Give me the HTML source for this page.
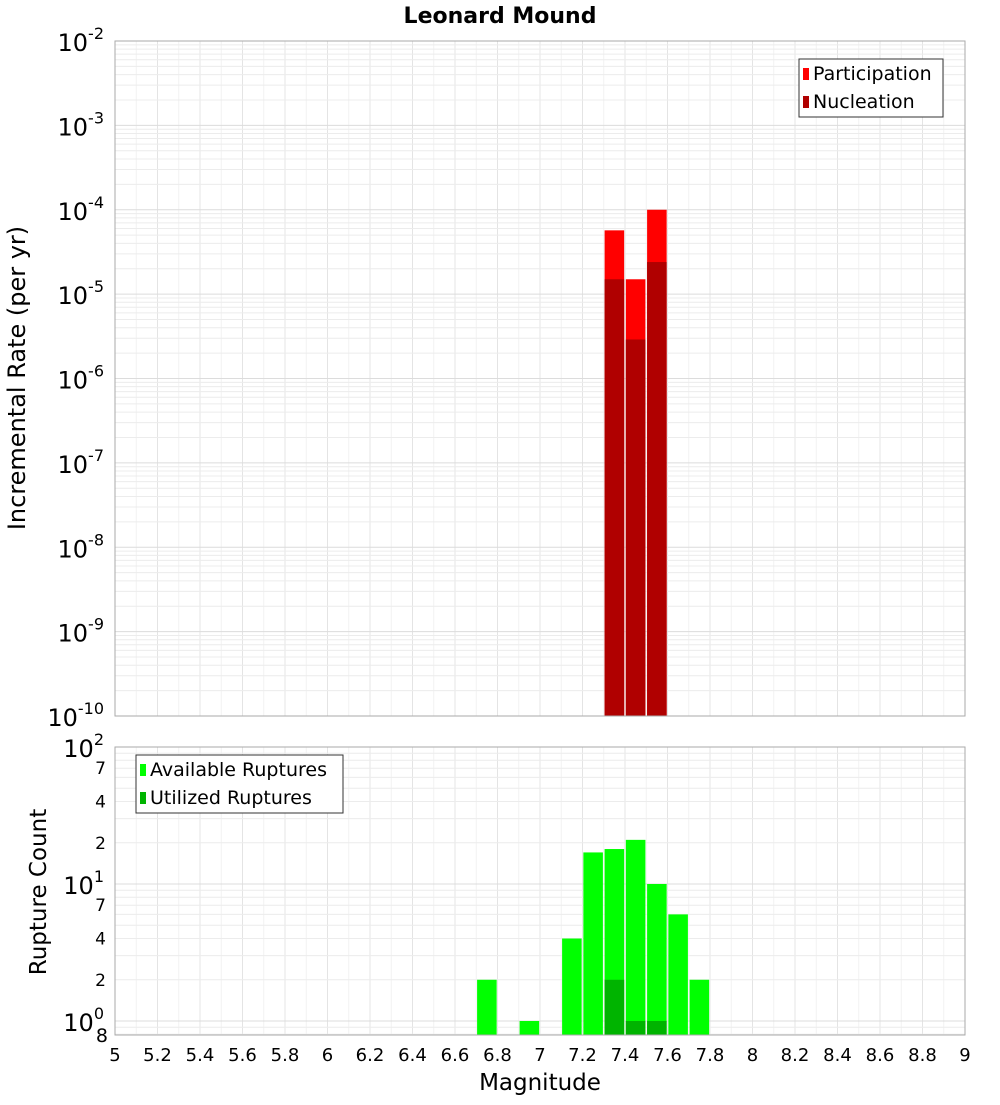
<!DOCTYPE html>
<html><head><meta charset="utf-8"><style>
body{margin:0;background:#fff;font-family:"Liberation Sans","DejaVu Sans",sans-serif}
svg text{font-family:"DejaVu Sans","Liberation Sans",sans-serif}
</style></head><body>
<svg id="c" width="1000" height="1100" xmlns="http://www.w3.org/2000/svg"></svg>
<script>
const topMags=[7.35,7.45,7.55];
const participation=[5.7e-5,1.5e-5,1.0e-4];
const nucleation=[1.5e-5,2.9e-6,2.4e-5];
const botMags=[6.75,6.95,7.15,7.25,7.35,7.45,7.55,7.65,7.75];
const available=[2,1,4,17,18,21,10,6,2];
const utilMags=[7.35,7.45,7.55];
const utilized=[2,1,1];
const xTicks=["5","5.2","5.4","5.6","5.8","6","6.2","6.4","6.6","6.8","7","7.2","7.4","7.6","7.8","8","8.2","8.4","8.6","8.8","9"];
const topExps=[-2,-3,-4,-5,-6,-7,-8,-9,-10];
const botMinor=[[7,"7"],[4,"4"],[2,"2"],[70,"7"],[40,"4"],[20,"2"]];

const svg=document.getElementById('c');
const NS="http://www.w3.org/2000/svg";
function mk(t,a,p){const e=document.createElementNS(NS,t);for(const k in a)e.setAttribute(k,a[k]);(p||svg).appendChild(e);return e;}
const X0=115,X1=965;
const xs=m=>X0+(m-5)/4*(X1-X0);
const T0=41,T1=716;
const yt=v=>T0+(-2-Math.log10(v))/8*(T1-T0);
const B0=747,B1=1035;
const yb=v=>B0+(2-Math.log10(v))*137;

let t=mk('text',{x:500,y:23,'text-anchor':'middle','font-size':22,'font-weight':'bold'});t.textContent="Leonard Mound";



function grid(y0,y1,ylines){
  for(let i=0;i<=40;i++){const x=xs(5+i*0.1);mk('line',{x1:x,x2:x,y1:y0,y2:y1,stroke:i%2?'#f2f2f2':'#e4e4e4','stroke-width':1});}
  ylines.forEach(([y,major])=>mk('line',{x1:X0,x2:X1,y1:y,y2:y,stroke:major?'#dcdcdc':'#ececec','stroke-width':1}));
}
let tl=[];
for(let e=-10;e<-2;e++){for(let k=1;k<10;k++)tl.push([yt(k*Math.pow(10,e)),k==1]);}
grid(T0,T1,tl);
let bl=[];
for(let e=-1;e<2;e++){for(let k=1;k<10;k++){const v=k*Math.pow(10,e);if(v>=0.79)bl.push([yb(v),k==1]);}}
grid(B0,B1,bl);

const bw=(X1-X0)/40*0.92;
topMags.forEach((m,i)=>{
  let r=mk('rect',{x:xs(m)-bw/2,y:yt(participation[i]),width:bw,height:T1-yt(participation[i]),fill:'#ff0000'});
  
  
  let n=mk('rect',{x:xs(m)-bw/2,y:yt(nucleation[i]),width:bw,height:T1-yt(nucleation[i]),fill:'#b00000'});
  
  
});
botMags.forEach((m,i)=>{
  let r=mk('rect',{x:xs(m)-bw/2,y:yb(available[i]),width:bw,height:B1-yb(available[i]),fill:'#00ff00'});
  
  
});
utilMags.forEach((m,i)=>{
  let r=mk('rect',{x:xs(m)-bw/2,y:yb(utilized[i]),width:bw,height:B1-yb(utilized[i]),fill:'#00b400'});
  
  
});

mk('rect',{x:X0,y:T0,width:X1-X0,height:T1-T0,fill:'none',stroke:'#aaa'});
mk('rect',{x:X0,y:B0,width:X1-X0,height:B1-B0,fill:'none',stroke:'#aaa'});

topExps.forEach(e=>{
  const y=yt(Math.pow(10,e));
  const g=mk('text',{x:104,y:y+10,'text-anchor':'end','font-size':24});
  g.innerHTML='10<tspan dy="-12" font-size="16">'+e+'</tspan>';
  
  
});
[[100,'2'],[10,'1'],[1,'0']].forEach(([v,e])=>{
  const y=yb(v);
  const g=mk('text',{x:104,y:y+10,'text-anchor':'end','font-size':24});
  g.innerHTML='10<tspan dy="-12" font-size="16">'+e+'</tspan>';
  
  
});
botMinor.forEach(([v,s])=>{
  const g=mk('text',{x:106,y:yb(v)+6,'text-anchor':'end','font-size':17});g.textContent=s;
  
  
});
let g8=mk('text',{x:108,y:1042,'text-anchor':'end','font-size':19});g8.textContent="8";



xTicks.forEach(s=>{
  const g=mk('text',{x:xs(parseFloat(s)),y:1061,'text-anchor':'middle','font-size':18});g.textContent=s;
  
  
});
let xl=mk('text',{x:540,y:1090,'text-anchor':'middle','font-size':23});xl.textContent="Magnitude";


let y1=mk('text',{x:25,y:378,'text-anchor':'middle','font-size':24,transform:'rotate(-90 25 378)'});y1.textContent="Incremental Rate (per yr)";


let y2=mk('text',{x:46,y:892,'text-anchor':'middle','font-size':23,transform:'rotate(-90 46 892)'});y2.textContent="Rupture Count";



function legend(x,y,w,items,name){
  const g=mk('g',{});
  
  
  mk('rect',{x:x,y:y,width:w,height:58,fill:'#fff',stroke:'#333'},g);
  items.forEach(([lab,col],i)=>{
    mk('rect',{x:x+4,y:y+9+i*28,width:6,height:12,fill:col},g);
    const tt=mk('text',{x:x+14,y:y+21+i*28,'font-size':19},g);tt.textContent=lab;
  });
}
legend(799,59,144,[["Participation","#ff0000"],["Nucleation","#b00000"]],'legend-top');
legend(136,755,207,[["Available Ruptures","#00ff00"],["Utilized Ruptures","#00b400"]],'legend-bottom');
</script>
</body></html>
